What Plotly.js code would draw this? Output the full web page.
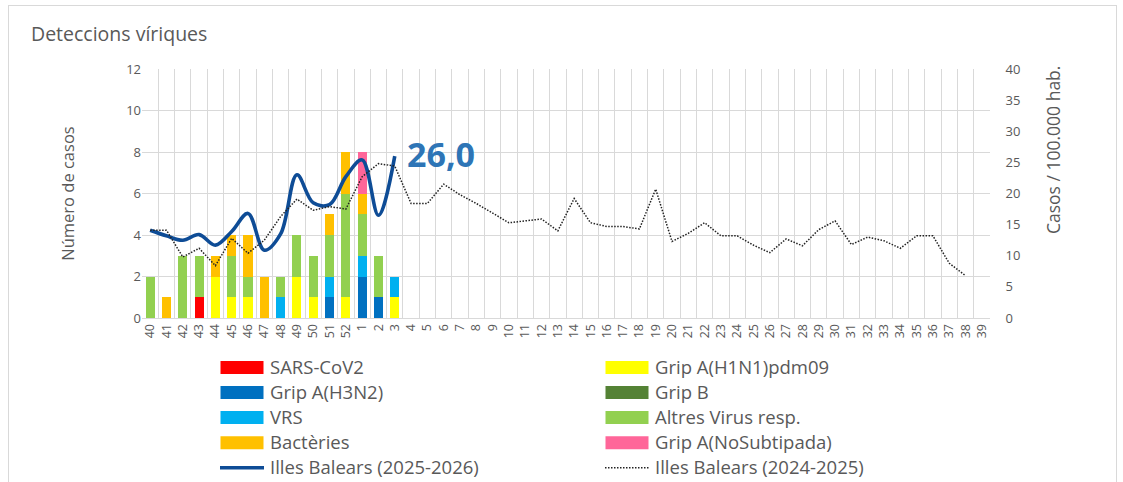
<!DOCTYPE html>
<html>
<head>
<meta charset="utf-8">
<script src="https://cdn.plot.ly/plotly-3.0.1.min.js"></script>
<style>
html,body{margin:0;padding:0;background:#fff;}
#frame{position:absolute;left:8px;top:5px;width:1107px;height:490px;border:1px solid #d9d9d9;pointer-events:none;}
#chart{position:absolute;left:0;top:0;width:1123px;height:482px;}
</style>
</head>
<body>
<div id="chart"></div>
<div id="frame"></div>
<script>
// Week categories (epidemiological weeks 40..52, 1..39)
const weeks = ["40","41","42","43","44","45","46","47","48","49","50","51","52",
  "1","2","3","4","5","6","7","8","9","10","11","12","13","14","15","16","17","18","19",
  "20","21","22","23","24","25","26","27","28","29","30","31","32","33","34","35","36","37","38","39"];

// Bars: number of cases (weeks 40..3)
const barWeeks = ["40","41","42","43","44","45","46","47","48","49","50","51","52","1","2","3"];
const sarsCov2   = [0,0,0,1,0,0,0,0,0,0,0,0,0,0,0,0];
const gripH1N1   = [0,0,0,0,2,1,1,0,0,2,1,0,1,0,0,1];
const gripH3N2   = [0,0,0,0,0,0,0,0,0,0,0,1,0,2,1,0];
const gripB      = [0,0,0,0,0,0,0,0,0,0,0,0,0,0,0,0];
const vrs        = [0,0,0,0,0,0,0,0,1,0,0,1,0,1,0,1];
const altres     = [2,0,3,2,0,2,1,0,1,2,2,2,5,2,2,0];
const bacteries  = [0,1,0,0,1,1,2,2,0,0,0,1,2,1,0,0];
const gripNoSub  = [0,0,0,0,0,0,0,0,0,0,0,0,0,2,0,0];

// Rates per 100.000 inhabitants
const rate2526Weeks = ["40","41","42","43","44","45","46","47","48","49","50","51","52","1","2","3"];
const rate2526 = [14.1,13.2,12.5,13.4,11.7,13.9,16.8,10.9,13.5,23.0,18.5,18.2,22.7,25.4,16.5,26.0];
const rate2425Weeks = ["40","41","42","43","44","45","46","47","48","49","50","51","52",
  "1","2","3","4","5","6","7","8","9","10","11","12","13","14","15","16","17","18","19",
  "20","21","22","23","24","25","26","27","28","29","30","31","32","33","34","35","36","37","38"];
const rate2425 = [14.1,14.1,9.8,11.2,8.4,12.8,10.4,12.5,16.3,19.1,17.3,17.9,17.5,
  22.7,24.8,24.4,18.4,18.4,21.5,19.8,18.4,16.8,15.3,15.6,15.9,14.0,19.2,15.3,14.7,14.7,14.3,20.7,
  12.3,13.6,15.3,13.2,13.2,11.7,10.5,12.7,11.6,14.2,15.6,11.8,13.0,12.4,11.2,13.2,13.2,8.8,6.8];

const leftTicks = [0,2,4,6,8,10,12];
const rightTicks = [0,5,10,15,20,25,30,35,40];

const FONT = "Open Sans, Noto Sans, sans-serif";
const GREY = "#595959";

function barTrace(name, vals, color){
  return {type:'bar', name:name, x:barWeeks, y:vals, marker:{color:color, line:{width:0}},
    hoverinfo:'x+y+name'};
}

const traces = [
  barTrace('SARS-CoV2', sarsCov2, '#FF0000'),
  barTrace('Grip A(H1N1)pdm09', gripH1N1, '#FFFF00'),
  barTrace('Grip A(H3N2)', gripH3N2, '#0070C0'),
  barTrace('Grip B', gripB, '#548235'),
  barTrace('VRS', vrs, '#00B0F0'),
  barTrace('Altres Virus resp.', altres, '#92D050'),
  barTrace('Bactèries', bacteries, '#FFC000'),
  barTrace('Grip A(NoSubtipada)', gripNoSub, '#FF6699'),
  {type:'scatter', mode:'lines', name:'Illes Balears (2025-2026)', x:rate2526Weeks, y:rate2526, yaxis:'y2',
    line:{color:'#0E4C96', width:3.6, shape:'spline', smoothing:1.0}},
  {type:'scatter', mode:'lines', name:'Illes Balears (2024-2025)', x:rate2425Weeks, y:rate2425, yaxis:'y2',
    line:{color:'#222222', width:1.5, dash:'1.5px,1.5px'}}
];

const last = rate2526[rate2526.length-1];
const lastIdx = weeks.indexOf(rate2526Weeks[rate2526Weeks.length-1]);

const layout = {
  width:1123, height:482,
  margin:{l:142, r:133, t:69, b:164, autoexpand:false},
  paper_bgcolor:'rgba(0,0,0,0)', plot_bgcolor:'#fff',
  barmode:'stack', bargap:0.44,
  font:{family:FONT, color:GREY, size:13},
  title:{text:'Deteccions víriques', xref:'container', yref:'container', x:31/1123, xanchor:'left',
    y:1-34/482, yanchor:'middle', font:{family:FONT, size:19.5, color:GREY}},
  xaxis:{type:'category', categoryorder:'array', categoryarray:weeks, tickson:'boundaries',
    tickangle:-90, showgrid:true, gridcolor:'#d9d9d9', gridwidth:1, ticks:'', showline:true, linecolor:'#d9d9d9',
    tickfont:{size:12.5, color:GREY}, range:[-0.5, weeks.length-0.5], zeroline:false},
  yaxis:{range:[0,12], tickvals:leftTicks, showgrid:true, gridcolor:'#d9d9d9', zeroline:false,
    tickfont:{size:13, color:GREY}, ticks:'', ticklen:0,
    title:{text:'Número de casos', font:{size:16.5, color:GREY}, standoff:47}},
  yaxis2:{range:[0,40], tickvals:rightTicks, overlaying:'y', side:'right', showgrid:false, zeroline:false,
    tickfont:{size:13, color:GREY}, ticks:'outside', ticklen:12, tickcolor:'rgba(0,0,0,0)'},
  showlegend:true,
  legend:{orientation:'h', x:(215-142)/848, xanchor:'left', y:-0.128, yanchor:'top',
    entrywidth:325, entrywidthmode:'pixels', traceorder:'normal', itemwidth:45,
    font:{size:17, color:GREY, family:FONT}, bgcolor:'rgba(0,0,0,0)', tracegroupgap:0},
  annotations:[
    {x:lastIdx, y:last, xref:'x', yref:'y2', text:'<b>'+last.toFixed(1).replace('.',',')+'</b>',
      showarrow:false, xanchor:'left', yanchor:'middle', xshift:10, yshift:2,
      font:{size:34, color:'#2E75B6', family:FONT}},
    {x:(1053-142)/848, y:(318-150)/249, xref:'paper', yref:'paper', xanchor:'center', yanchor:'middle',
      text:'Casos / 100.000 hab.', textangle:-90, showarrow:false, font:{size:17.5, color:GREY, family:FONT}}
  ]
};

Plotly.newPlot('chart', traces, layout, {displayModeBar:false, staticPlot:true}).then(function(gd){
  // widen legend swatches and enlarge legend text to match the reference
  gd.querySelectorAll('.legend .traces').forEach(function(g){
    g.querySelectorAll('.legendpoints path').forEach(function(p){
      p.setAttribute('d','M-22,-6.5H21V6.5H-22Z');
    });
    g.querySelectorAll('.legendlines path').forEach(function(p){
      p.setAttribute('d','M5,0h44');
    });
    g.querySelectorAll('text.legendtext').forEach(function(t){
      t.style.fontSize = '18.5px';
    });
  });
});
</script>
</body>
</html>
